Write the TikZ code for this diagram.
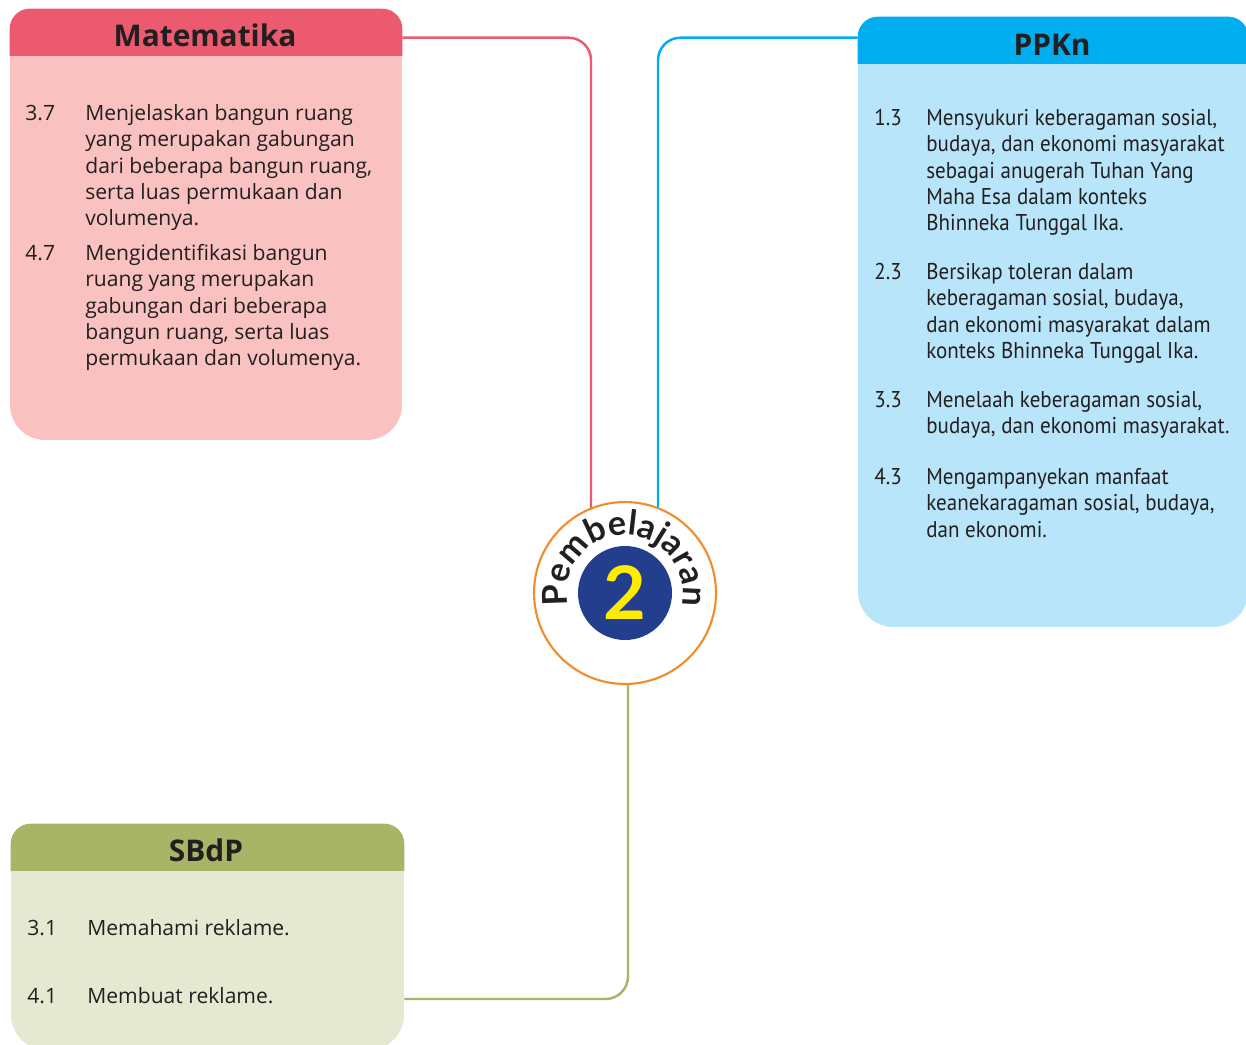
\documentclass[tikz,border=0pt]{standalone}
\usepackage{fontspec}
\setmainfont{Open Sans}
\newfontfamily\ppkfont[FakeStretch=0.92]{PT Sans}
\newfontfamily\ringfont{Lato}
\usetikzlibrary{calc, backgrounds, decorations.text}
\definecolor{ink}{HTML}{231F20}
\definecolor{matdark}{HTML}{EB5A6E}
\definecolor{matlight}{HTML}{F9C2C1}
\definecolor{ppkdark}{HTML}{00AEEF}
\definecolor{ppklight}{HTML}{B8E5F9}
\definecolor{sbddark}{HTML}{A8B567}
\definecolor{sbdlight}{HTML}{E6E9D2}
\definecolor{ringline}{HTML}{F28C28}
\definecolor{navy}{HTML}{243E8E}
\definecolor{gold}{HTML}{FFEC00}
\newcommand\matsize{\fontsize{12}{15}\selectfont}
\newcommand\ppksize{\ppkfont\fontsize{13}{15}\selectfont}

\begin{document}
\begin{tikzpicture}[x=0.02cm, y=-0.02cm,
      card/.style={rounded corners=0.7cm, inner sep=0pt},
      head/.style={inner sep=0pt, text height=12pt, text depth=0pt,
                   font=\fontsize{17}{17}\selectfont\bfseries, text=ink},
      num/.style={anchor=north west, inner sep=0pt, font=\matsize, text=ink},
      txt/.style={num, align=left},
      pnum/.style={num, font=\ppksize},
      ptxt/.style={txt, font=\ppksize},
      link/.style={line width=1.4pt, rounded corners=0.45cm},
   ]
   \useasboundingbox (0,0) rectangle (1246,1044);

   % Matematika
   \node[card, fill=matlight, minimum width=7.84cm, minimum height=8.62cm] (mat) at (206,224.5) {};
   \begin{scope}
      \clip (mat.north west) rectangle ([yshift=-0.94cm]mat.north east);
      \fill[matdark, rounded corners=0.4cm] (mat.north west) rectangle (mat.south east);
   \end{scope}
   \node[head] (mathead) at (205,36) {Matematika};
   \node[num] (m37) at (25,101.5) {\strut 3.7};
   \node[txt] (t37) at (85,101.5) {\strut Menjelaskan bangun ruang\\
      yang merupakan gabungan\\ dari beberapa bangun ruang,\\
      serta luas permukaan dan\\ volumenya.};
   \node[num] (m47) at (25,241.5) {\strut 4.7};
   \node[txt] (t47) at (85,241.5) {\strut Mengidentifikasi bangun\\
      ruang yang merupakan\\ gabungan dari beberapa\\
      bangun ruang, serta luas\\ permukaan dan volumenya.};

   % PPKn
   \node[card, fill=ppklight, minimum width=7.8cm, minimum height=12.2cm] (ppk) at (1053,322) {};
   \begin{scope}
      \clip (ppk.north west) rectangle ([yshift=-0.94cm]ppk.north east);
      \fill[ppkdark, rounded corners=0.4cm] (ppk.north west) rectangle (ppk.south east);
   \end{scope}
   \node[head] (ppkhead) at (1052,45) {PPKn};
   \node[pnum] (p13) at (874,106.5) {\strut 1.3};
   \node[ptxt] (q13) at (926,106.5) {\strut Mensyukuri keberagaman sosial,\\
      budaya, dan ekonomi masyarakat\\ sebagai anugerah Tuhan Yang\\
      Maha Esa dalam konteks\\ Bhinneka Tunggal Ika.};
   \node[pnum] (p23) at (874,260.5) {\strut 2.3};
   \node[ptxt] (q23) at (926,260.5) {\strut Bersikap toleran dalam\\
      keberagaman sosial, budaya,\\ dan ekonomi masyarakat dalam\\
      konteks Bhinneka Tunggal Ika.};
   \node[pnum] (p33) at (874,388.5) {\strut 3.3};
   \node[ptxt] (q33) at (926,388.5) {\strut Menelaah keberagaman sosial,\\
      budaya, dan ekonomi masyarakat.};
   \node[pnum] (p43) at (874,465.5) {\strut 4.3};
   \node[ptxt] (q43) at (926,465.5) {\strut Mengampanyekan manfaat\\
      keanekaragaman sosial, budaya,\\ dan ekonomi.};

   % SBdP
   \node[card, fill=sbdlight, minimum width=7.86cm, minimum height=4.52cm] (sbd) at (207.5,937) {};
   \begin{scope}
      \clip (sbd.north west) rectangle ([yshift=-0.94cm]sbd.north east);
      \fill[sbddark, rounded corners=0.4cm] (sbd.north west) rectangle (sbd.south east);
   \end{scope}
   \node[head] (sbdhead) at (206,851) {SBdP};
   \node[num] (s31) at (27,916.5) {\strut 3.1};
   \node[txt] (u31) at (87,916.5) {\strut Memahami reklame.};
   \node[num] (s41) at (27,984.5) {\strut 4.1};
   \node[txt] (u41) at (87,984.5) {\strut Membuat reklame.};

   % centre badge
   \node[circle, draw=ringline, line width=1.2pt, fill=white, minimum size=3.64cm,
         inner sep=0pt] (ring) at (625,593) {};
   \node[circle, fill=navy, minimum size=1.88cm, inner sep=0pt, text=gold,
         font=\ringfont\fontsize{42}{42}\selectfont\bfseries] (two) at (ring.center) {2};
   \path[decorate, decoration={text along path, text color=ink, text align=center,
         text={|\ringfont\fontsize{19.5}{19.5}\selectfont\bfseries|Pembelajaran}}]
      ($(ring.center)+(197:1.16cm)$) arc[start angle=197, end angle=-17, radius=1.16cm];

   % connectors
   \begin{scope}[on background layer]
      \draw[link, matdark] ($(mat.north east)+(0,29)$) -| ($(ring.center)+(-34,0)$);
      \draw[link, ppkdark] ($(ppk.north west)+(0,21)$) -| ($(ring.center)+(33,0)$);
      \draw[link, sbddark] ($(ring.center)+(3,0)$) |- (sbd.east |- 0,999);
   \end{scope}
\end{tikzpicture}
\end{document}
